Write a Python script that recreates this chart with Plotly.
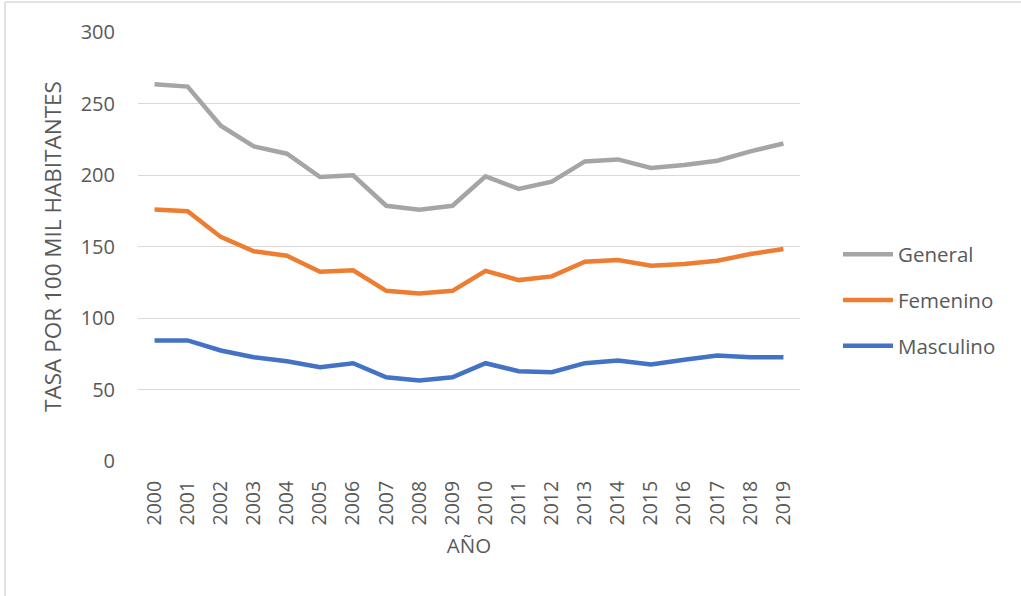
import plotly.graph_objects as go

# Tasa por 100 mil habitantes, 2000-2019
years = [str(y) for y in range(2000, 2020)]
general = [263.5, 261.8, 234.5, 220.0, 214.9, 198.6, 199.8, 178.5, 175.7, 178.5,
           199.0, 190.3, 195.4, 209.5, 210.9, 204.9, 207.0, 210.0, 216.5, 222.0]
femenino = [175.9, 174.7, 156.7, 146.7, 143.5, 132.3, 133.4, 119.0, 117.1, 119.0,
            133.0, 126.5, 129.1, 139.3, 140.5, 136.5, 137.7, 140.0, 144.7, 148.2]
masculino = [84.3, 84.3, 77.3, 72.6, 69.8, 65.6, 68.4, 58.6, 56.3, 58.6,
             68.4, 62.8, 62.1, 68.4, 70.3, 67.5, 70.8, 73.8, 72.6, 72.6]

series = [
    ("General", general, "#A5A5A5"),
    ("Femenino", femenino, "#ED7D31"),
    ("Masculino", masculino, "#4472C4"),
]

W, H = 1021, 596
L, R, T, B = 138, 221, 32, 135
FONT = "Open Sans"
TXT = "#595959"

fig = go.Figure()
for i, (name, vals, col) in enumerate(series):
    fig.add_trace(go.Scatter(
        x=years, y=vals, name=name, mode="lines",
        line=dict(color=col, width=4.5),
        legendgroup=f"g{i}",
    ))

pw = W - L - R
ph = H - T - B


def px_x(p):
    return (p - L) / pw


def px_y(p):
    return (H - B - p) / ph


# thin frame on the left and top edges of the chart area
fig.add_shape(type="line", xref="paper", yref="paper",
              x0=px_x(5), x1=px_x(5), y0=px_y(2), y1=px_y(H + 5),
              line=dict(color="#D9D9D9", width=1.5))
fig.add_shape(type="line", xref="paper", yref="paper",
              x0=px_x(5), x1=px_x(W + 5), y0=px_y(2), y1=px_y(2),
              line=dict(color="#D9D9D9", width=1.5))

fig.update_layout(
    width=W, height=H,
    margin=dict(l=L, r=R, t=T, b=B, pad=0),
    paper_bgcolor="white", plot_bgcolor="white",
    font=dict(family=FONT, color=TXT, size=20),
    showlegend=True,
    legend=dict(
        x=px_x(838), xanchor="left", y=px_y(300), yanchor="middle",
        font=dict(size=20.5, color=TXT, family=FONT),
        itemwidth=50,
        tracegroupgap=16, bgcolor="rgba(0,0,0,0)",
    ),
    xaxis=dict(
        type="category", range=[-0.5, 19.5], tickangle=-90,
        showgrid=False, zeroline=False,
        showline=False, ticks="", tickfont=dict(size=19.5, color=TXT),
        ticklabelstandoff=15,
        title=dict(text="AÑO", font=dict(size=20.5, color=TXT), standoff=14),
    ),
    yaxis=dict(
        range=[0, 300], tickvals=[0, 50, 100, 150, 200, 250, 300],
        showgrid=True, gridcolor="#D9D9D9", gridwidth=1,
        zeroline=False, showline=False, ticks="",
        tickfont=dict(size=20, color=TXT), ticklabelstandoff=22,
        title=dict(text="TASA POR 100 MIL HABITANTES",
                   font=dict(size=22.5, color=TXT), standoff=12),
    ),
)

fig.write_html("out.html")
